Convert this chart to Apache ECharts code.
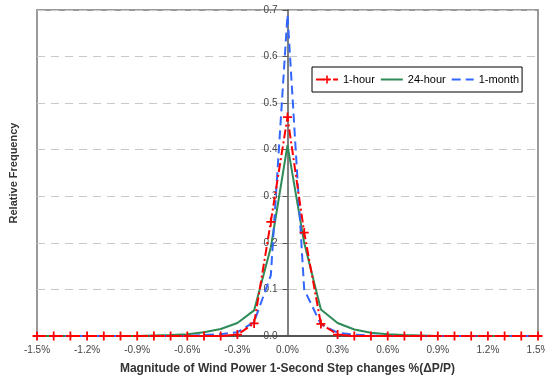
<!DOCTYPE html>
<html>
<head>
<meta charset="utf-8">
<script src="https://cdn.jsdelivr.net/npm/echarts@6/dist/echarts.min.js"></script>
<style>
  html, body { margin: 0; padding: 0; background: #fff; }
  #chart { width: 545px; height: 377px; }
</style>
</head>
<body>
<div id="chart"></div>
<script>
// Step-change magnitudes (%), sampled every 0.1%
const steps = [-1.5, -1.4, -1.3, -1.2, -1.1, -1.0, -0.9, -0.8, -0.7, -0.6, -0.5, -0.4, -0.3, -0.2, -0.1,
               0.0, 0.1, 0.2, 0.3, 0.4, 0.5, 0.6, 0.7, 0.8, 0.9, 1.0, 1.1, 1.2, 1.3, 1.4, 1.5];

// Relative frequency for each observation window
const oneHour = [0, 0, 0, 0, 0, 0, 0, 0, 0, 0, 0, 0, 0.003, 0.027, 0.245,
                 0.47, 0.222, 0.026, 0.003, 0, 0, 0, 0, 0, 0, 0, 0, 0, 0, 0, 0];
const day = [0, 0, 0, 0, 0, 0, 0, 0.001, 0.002, 0.004, 0.008, 0.015, 0.028, 0.055, 0.19,
             0.41, 0.2, 0.057, 0.028, 0.014, 0.007, 0.004, 0.002, 0.001, 0, 0, 0, 0, 0, 0, 0];
const month = [0, 0, 0, 0, 0, 0, 0, 0, 0, 0, 0.002, 0.004, 0.008, 0.03, 0.13,
               0.69, 0.10, 0.025, 0.007, 0.003, 0.001, 0, 0, 0, 0, 0, 0, 0, 0, 0, 0];

const seriesNames = ['1-hour', '24-hour', '1-month'];

const pairs = vals => steps.map((x, i) => [x, vals[i]]);
const FONT = 'Liberation Sans, Arial, sans-serif';
const PLUS = 'path://M4,0 H6 V4 H10 V6 H6 V10 H4 V6 H0 V4 H4 Z';

const GRID = { left: 37, right: 7, top: 10, bottom: 41 };
const plotWidth = 545 - GRID.left - GRID.right;

const chart = echarts.init(document.getElementById('chart'), null, { renderer: 'canvas' });

chart.setOption({
  animation: false,
  backgroundColor: '#fff',
  grid: Object.assign({
    show: true, borderColor: '#999', borderWidth: 2,
    outerBoundsMode: 'none', containLabel: false
  }, GRID),
  legend: {
    left: 312, top: 67,
    padding: [7, 3, 7, 3],
    borderColor: '#000', borderWidth: 1,
    backgroundColor: '#fff',
    itemWidth: 22, itemHeight: 10, itemGap: 5,
    textStyle: { fontFamily: FONT, fontSize: 11, color: '#000' },
    data: [
      { name: seriesNames[0] },
      { name: seriesNames[1], itemStyle: { opacity: 0 } },
      { name: seriesNames[2], itemStyle: { opacity: 0 } }
    ]
  },
  xAxis: {
    type: 'value',
    min: -1.5, max: 1.5, interval: 0.3,
    name: 'Magnitude of Wind Power 1-Second Step changes %(ΔP/P)',
    nameLocation: 'middle', nameGap: 27,
    nameTextStyle: { fontFamily: FONT, fontSize: 12, fontWeight: 'bold', color: '#333' },
    axisLine: { onZero: false, lineStyle: { color: '#555', width: 2 } },
    axisTick: { show: false },
    splitLine: { show: false },
    axisLabel: {
      margin: 9, fontFamily: FONT, fontSize: 10, color: '#444',
      formatter: v => (Math.abs(v) < 1e-9 ? 0 : v).toFixed(1) + '%'
    }
  },
  yAxis: [{
    // value axis drawn through the zero of the x scale (plot centre)
    type: 'value',
    position: 'left',
    offset: -plotWidth / 2,
    min: 0, max: 0.7, interval: 0.1,
    axisLine: { show: true, onZero: false, lineStyle: { color: '#555', width: 1.5 } },
    axisTick: { show: true, length: 5, lineStyle: { color: '#555' } },
    axisLabel: {
      margin: 10, fontFamily: FONT, fontSize: 10, color: '#444',
      formatter: v => v.toFixed(1)
    },
    splitLine: { show: true, lineStyle: { color: '#c8c8c8', type: [8, 6], width: 1 } }
  }, {
    type: 'value',
    position: 'left',
    offset: 0,
    min: 0, max: 0.7,
    name: 'Relative Frequency',
    nameLocation: 'middle', nameGap: 18,
    nameTextStyle: { fontFamily: FONT, fontSize: 11, fontWeight: 'bold', color: '#333' },
    axisLine: { show: false, onZero: false },
    axisTick: { show: false },
    axisLabel: { show: false },
    splitLine: { show: false }
  }],
  series: [{
    name: seriesNames[0],
    type: 'line',
    z: 4,
    data: pairs(oneHour),
    symbol: PLUS, symbolSize: 9,
    itemStyle: { color: '#ff0000', borderWidth: 0 },
    lineStyle: { color: '#ff0000', width: 2, type: [9, 3, 2, 3] }
  }, {
    name: seriesNames[1],
    type: 'line',
    z: 2,
    data: pairs(day),
    showSymbol: false, symbol: 'none',
    itemStyle: { color: '#2e8b57' },
    lineStyle: { color: '#2e8b57', width: 2 }
  }, {
    name: seriesNames[2],
    type: 'line',
    z: 3,
    data: pairs(month),
    showSymbol: false, symbol: 'none',
    itemStyle: { color: '#3366ff' },
    lineStyle: { color: '#3366ff', width: 2, type: [9, 5] }
  }]
});
</script>
</body>
</html>
